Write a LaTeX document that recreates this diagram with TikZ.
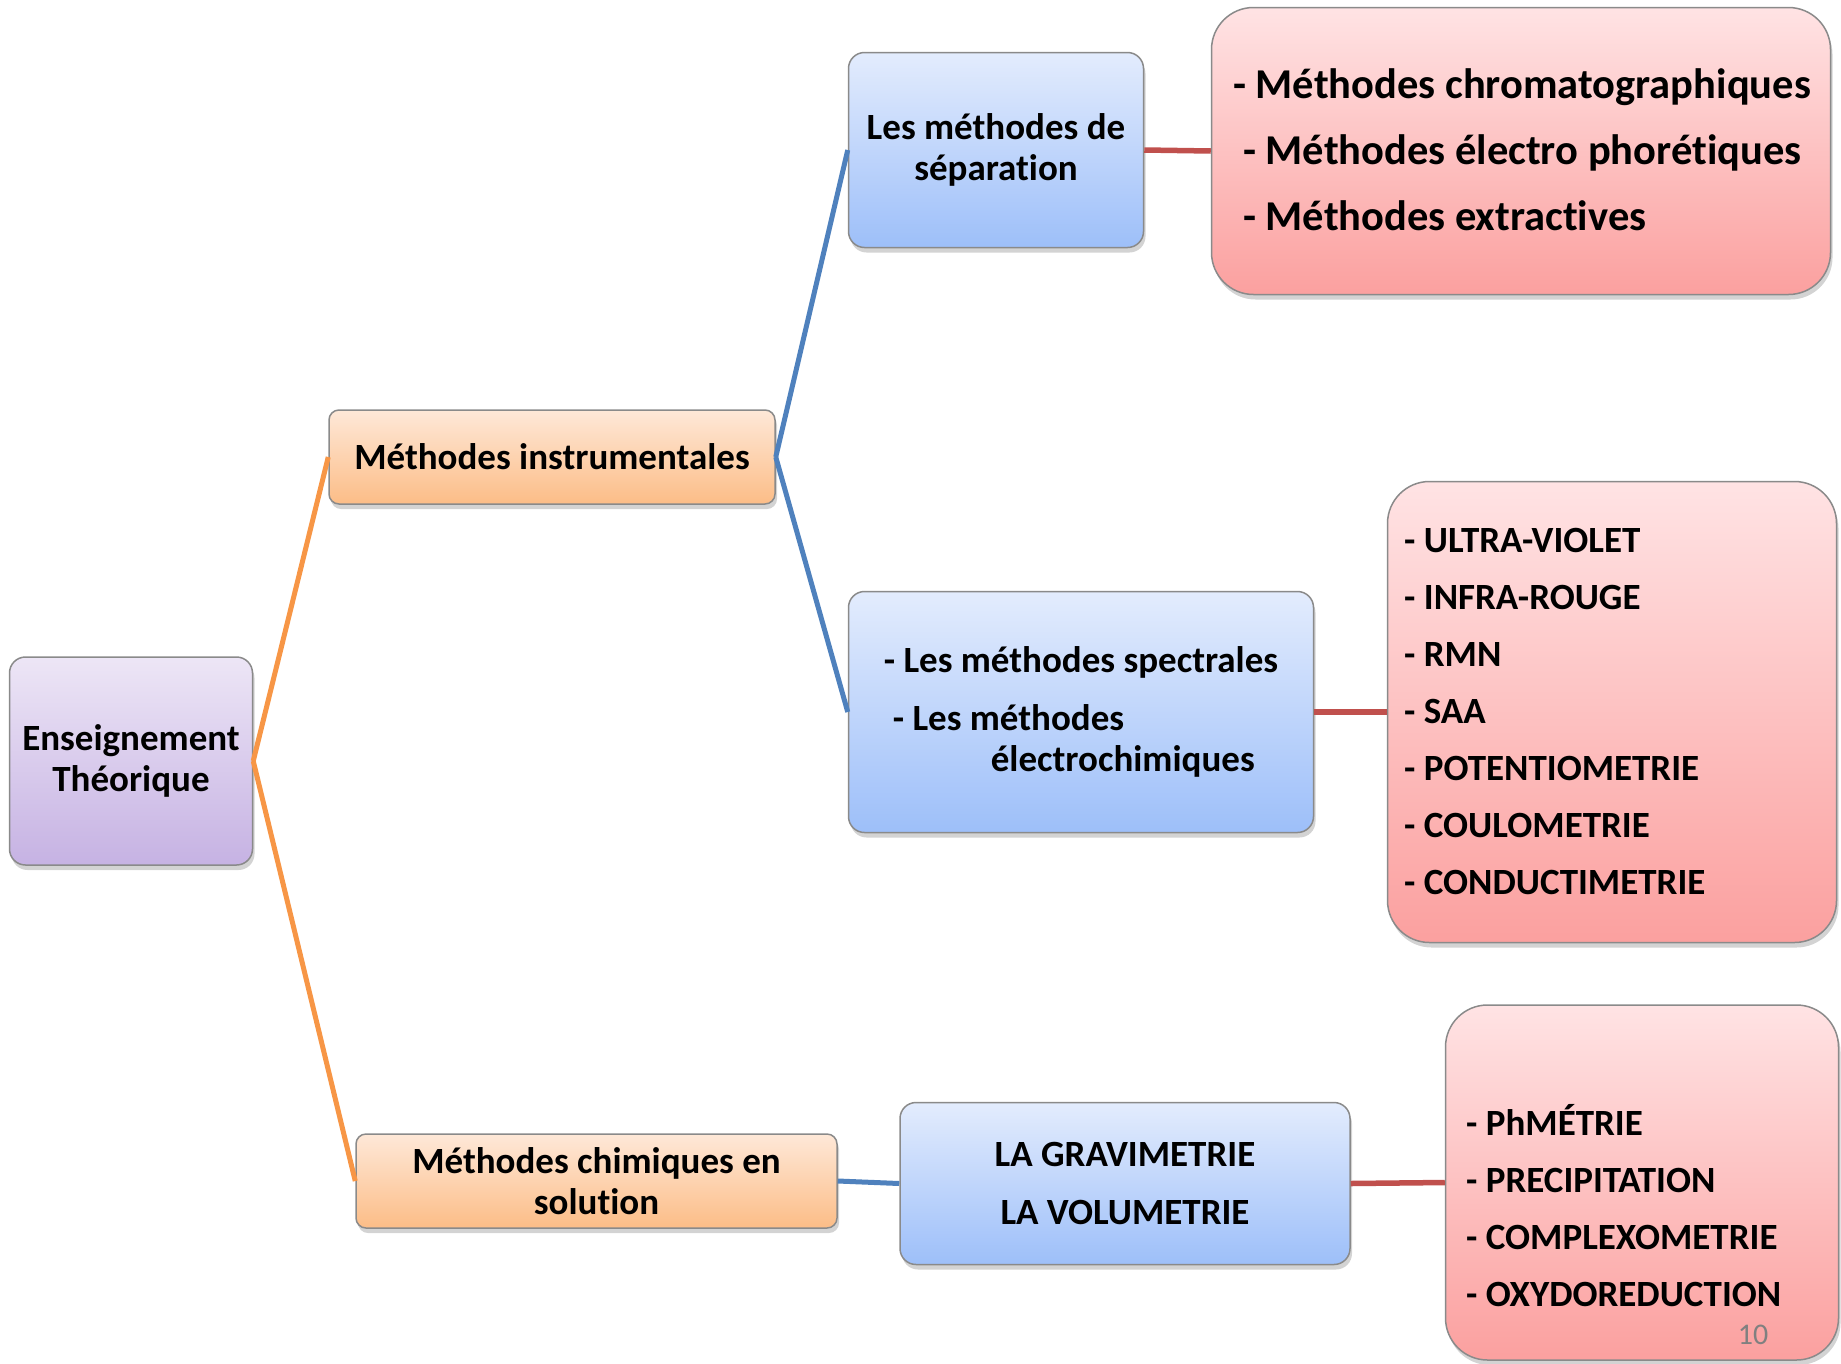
\documentclass[tikz,border=0pt]{standalone}
\usepackage{fontspec}
\setmainfont{Carlito}[Ligatures=NoCommon]
\usetikzlibrary{shadows}
\definecolor{purpT}{HTML}{EDE6F6}
\definecolor{purpB}{HTML}{C6B2E3}
\definecolor{oraT}{HTML}{FEE8D8}
\definecolor{oraB}{HTML}{FCBD87}
\definecolor{bluT}{HTML}{E3ECFD}
\definecolor{bluB}{HTML}{9DBFF9}
\definecolor{redT}{HTML}{FFE3E4}
\definecolor{redB}{HTML}{FBA09F}
\definecolor{lineO}{HTML}{F79646}
\definecolor{lineB}{HTML}{4F81BD}
\definecolor{lineR}{HTML}{C0504D}
\definecolor{edge}{HTML}{8A8A8A}
\tikzset{
  basebox/.style={draw=edge, line width=1.5pt, inner sep=0pt,
    drop shadow={opacity=0.35, shadow xshift=2pt, shadow yshift=-5pt},
    font=\fontsize{37}{41}\selectfont\bfseries, align=center},
  purplebox/.style={basebox, rounded corners=16pt, top color=purpT, bottom color=purpB},
  orangebox/.style={basebox, rounded corners=10pt, top color=oraT, bottom color=oraB},
  bluebox/.style={basebox, rounded corners=16pt, top color=bluT, bottom color=bluB},
  redbox/.style={basebox, rounded corners=42pt, top color=redT, bottom color=redB},
  listtxt/.style={anchor=base west, inner sep=0pt, font=\fontsize{37}{41}\selectfont\bfseries},
  bigtxt/.style={anchor=base west, inner sep=0pt, font=\fontsize{42.5}{46}\selectfont\bfseries},
  linkO/.style={draw=lineO, line width=5pt},
  linkB/.style={draw=lineB, line width=5pt},
  linkR/.style={draw=lineR, line width=5.5pt},
}
\begin{document}
\begin{tikzpicture}[x=1pt,y=-1pt]
\useasboundingbox (0,0) rectangle (1841,1363);
% boxes
\node[purplebox, minimum width=243pt, minimum height=208pt] (ens) at (131,761) {Enseignement\\Théorique};
\node[orangebox, minimum width=446pt, minimum height=94pt] (instr) at (552,457) {Méthodes instrumentales};
\node[orangebox, minimum width=481pt, minimum height=94pt] (chim) at (596.5,1181) {Méthodes chimiques en\\solution};
\node[bluebox, minimum width=295pt, minimum height=195pt] (sep) at (996,150) {Les méthodes de\\séparation};
\node[bluebox, minimum width=465pt, minimum height=241pt] (spec) at (1081,712) {};
\node[bluebox, minimum width=450pt, minimum height=162pt] (grav) at (1125,1183.5) {LA GRAVIMETRIE\\[17pt]LA VOLUMETRIE};
\node[redbox, minimum width=619pt, minimum height=287pt] (red1) at (1521,151) {};
\node[redbox, minimum width=449pt, minimum height=461pt] (red2) at (1612,712) {};
\node[redbox, minimum width=393pt, minimum height=355pt] (red3) at (1642,1182.5) {};
% connectors
\path[linkO] (ens.east) -- (instr.west);
\path[linkO] (ens.east) -- (chim.west);
\path[linkB] (instr.east) -- (sep.west);
\path[linkB] (instr.east) -- (spec.west);
\path[linkB] (chim.east) -- (grav.west);
\path[linkR] (sep.east) -- (red1.west);
\path[linkR] (spec.east) -- (red2.west);
\path[linkR] (grav.east) -- (red3.west);
% texts of spectral box
\node[listtxt, align=left, anchor=center] (spectxt) at (spec.center) {- Les méthodes spectrales\\[17pt]\hspace*{9pt}- Les méthodes\\\hspace*{107pt}électrochimiques};
% red box 1
\node[bigtxt] (r1a) at (1233,98) {- Méthodes chromatographiques};
\node[bigtxt] (r1b) at (1243,164) {- Méthodes électro phorétiques};
\node[bigtxt] (r1c) at (1243,230) {- Méthodes extractives};
% red box 2
\node[listtxt] (r2a) at (1404,552) {- ULTRA-VIOLET};
\node[listtxt] (r2b) at (1404,609) {- INFRA-ROUGE};
\node[listtxt] (r2c) at (1404,666) {- RMN};
\node[listtxt] (r2d) at (1404,723) {- SAA};
\node[listtxt] (r2e) at (1404,780) {- POTENTIOMETRIE};
\node[listtxt] (r2f) at (1404,837) {- COULOMETRIE};
\node[listtxt] (r2g) at (1404,894) {- CONDUCTIMETRIE};
% red box 3
\node[listtxt] (r3a) at (1466,1135) {- PhMÉTRIE};
\node[listtxt] (r3b) at (1466,1192) {- PRECIPITATION};
\node[listtxt] (r3c) at (1466,1249) {- COMPLEXOMETRIE};
\node[listtxt] (r3d) at (1466,1306) {- OXYDOREDUCTION};
\node[anchor=base, inner sep=0pt, font=\fontsize{30}{34}\selectfont, text=gray] (pnum) at (1753,1344) {10};
\end{tikzpicture}
\end{document}
